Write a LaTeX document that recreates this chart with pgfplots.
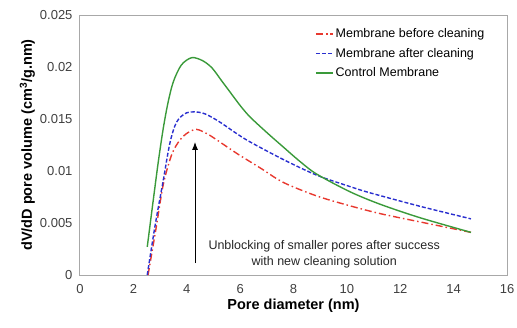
\documentclass[border=0pt]{standalone}
\usepackage{pgfplots}
\pgfplotsset{compat=1.18}
\usetikzlibrary{arrows.meta}
\usepackage{fontspec}
\setmainfont{Liberation Sans}
\definecolor{cred}{HTML}{E8392F}
\definecolor{cblue}{HTML}{2A2FCF}
\definecolor{cgreen}{HTML}{3A9A3A}
\definecolor{cgray}{HTML}{A8A8A8}
\begin{document}
\begin{tikzpicture}
\begin{axis}[
  scale only axis, width=427pt, height=260pt,
  xmin=0, xmax=16, ymin=0, ymax=0.025,
  xtick={0,2,...,16},
  ytick={0,0.005,0.01,0.015,0.02,0.025},
  yticklabels={0,0.005,0.01,0.015,0.02,0.025},
  scaled y ticks=false,
  /pgf/number format/assume math mode=true,
  major tick length=0pt,
  axis line style={cgray, line width=1pt},
  tick label style={font=\fontsize{13}{15}\selectfont, text=black!75},
  xticklabel style={yshift=-6pt},
  yticklabel style={xshift=-4pt},
  xlabel={\textbf{Pore diameter (nm)}},
  ylabel={\textbf{dV/dD pore volume (cm\textsuperscript{3}/g.nm)}},
  label style={font=\fontsize{14.5}{16}\selectfont},
  xlabel style={yshift=2pt},
  ylabel style={yshift=-2pt},
  legend style={draw=none, fill=none, at={(0.548,0.96)}, anchor=north west,
    font=\fontsize{12.5}{14}\selectfont, row sep=5pt, inner sep=1pt},
  legend cell align=left,
  every axis plot/.append style={smooth, tension=0.5, line width=1.4pt},
]
\addplot[cred, dash pattern=on 7pt off 3pt on 1.5pt off 3pt] coordinates {
(2.55,0) (2.85,0.0045) (3.12,0.0087) (3.44,0.0116) (3.75,0.0130) (4.05,0.0137) (4.37,0.0140) (4.75,0.0136) (5.12,0.0130) (5.87,0.0117) (6.75,0.0103) (7.62,0.0089) (8.87,0.0076) (10.12,0.00665) (11.25,0.0059) (12.75,0.0051) (14.65,0.0041)};
\addlegendentry{Membrane before cleaning}
\addplot[cblue, dash pattern=on 4pt off 2pt] coordinates {
(2.52,0) (2.81,0.0047) (3.12,0.0091) (3.37,0.0127) (3.62,0.0147) (4.0,0.0156) (4.56,0.0156) (5.12,0.0149) (5.87,0.0136) (6.37,0.0128) (7.62,0.0111) (8.87,0.0096) (10.12,0.0085) (10.87,0.0079) (12.75,0.0066) (14.65,0.0054)};
\addlegendentry{Membrane after cleaning}
\addplot[cgreen] coordinates {
(2.52,0.0027) (2.75,0.0073) (2.94,0.0110) (3.12,0.0141) (3.3,0.0166) (3.5,0.0186) (3.8,0.0202) (4.19,0.0209) (4.6,0.0206) (4.95,0.0199) (5.3,0.0187) (5.62,0.0176) (6.0,0.0163) (6.37,0.0152) (7.0,0.0137) (7.62,0.0123) (8.25,0.0109) (8.87,0.0097) (10.12,0.0080) (11.25,0.0068) (12.75,0.0055) (14.65,0.0041)};
\addlegendentry{Control Membrane}
\draw[-{Latex[length=8pt,width=6pt]}, line width=1pt, black] (axis cs:4.31,0.00115) -- (axis cs:4.31,0.0128);
\node[font=\fontsize{12.5}{15.5}\selectfont, align=center, text=black!85] at (axis cs:9.15,0.0020) {Unblocking of smaller pores after success\\with new cleaning solution};
\end{axis}
\pgfresetboundingbox
\useasboundingbox (-80pt,-52pt) rectangle (437pt,275pt);
\end{tikzpicture}
\end{document}
